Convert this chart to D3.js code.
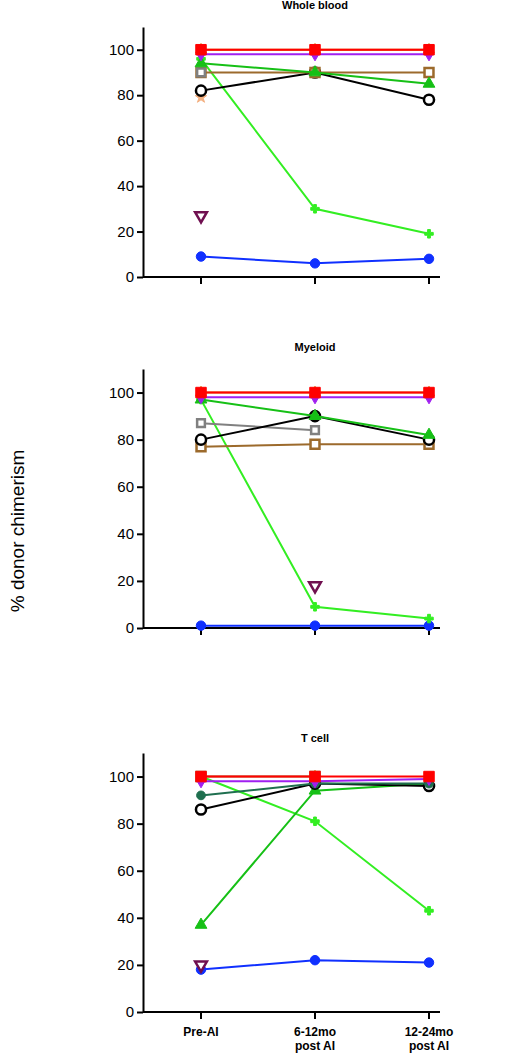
<!DOCTYPE html>
<html>
<head>
<meta charset="utf-8">
<script src="https://cdn.jsdelivr.net/npm/d3@7"></script>
<style>body{margin:0;background:#fff;font-family:Arial,"Liberation Sans",sans-serif}</style>
</head>
<body>
<div class="chart"></div>
<script>
const timepoints = ["Pre-AI", "6-12mo post AI", "12-24mo post AI"];
const yTicks = [0, 20, 40, 60, 80, 100];

// series style keys: color, symbol, filled
const styles = {
  red:    {color: "#ff0000", sym: d3.symbolSquare, fill: true, size: 110},
  purple: {color: "#a020f0", sym: d3.symbolDiamond, fill: true, size: 50},
  orange: {color: "#e07a10", sym: d3.symbolTriangle, fill: true, size: 50},
  brown:  {color: "#9c6a2c", sym: d3.symbolSquare, fill: false, size: 80},
  gray:   {color: "#808080", sym: d3.symbolSquare, fill: false, size: 60},
  green:  {color: "#16c016", sym: d3.symbolTriangle, fill: true, size: 60},
  black:  {color: "#000000", sym: d3.symbolCircle, fill: false, size: 80},
  teal:   {color: "#1f6f4f", sym: d3.symbolCircle, fill: true, size: 60},
  lime:   {color: "#33ee22", sym: d3.symbolCross, fill: true, size: 40},
  maroon: {color: "#701050", sym: d3.symbolTriangle, fill: false, size: 60, rot: 180},
  peach:  {color: "#f4b080", sym: d3.symbolStar, fill: true, size: 40},
  blue:   {color: "#1030ff", sym: d3.symbolCircle, fill: true, size: 70}
};

const wholeBlood = [
  ["peach", [79, null, null]],
  ["blue", [9, 6, 8]],
  ["maroon", [27, null, null]],
  ["lime", [96, 30, 19]],
  ["black", [82, 90, 78]],
  ["brown", [90, 90, 90]],
  ["gray", [90, null, null]],
  ["green", [94, 90, 85]],
  ["orange", [100, 100, 100]],
  ["purple", [98, 98, 98]],
  ["red", [100, 100, 100]]
];
const myeloid = [
  ["blue", [1, 1, 1]],
  ["maroon", [null, 18, null]],
  ["lime", [97, 9, 4]],
  ["brown", [77, 78, 78]],
  ["gray", [87, 84, null]],
  ["black", [80, 90, 80]],
  ["green", [97, 90, 82]],
  ["orange", [100, 100, 100]],
  ["purple", [98, 98, 98]],
  ["red", [100, 100, 100]]
];
const tCell = [
  ["blue", [18, 22, 21]],
  ["maroon", [20, null, null]],
  ["lime", [100, 81, 43]],
  ["green", [37, 94, 97]],
  ["black", [86, 97, 96]],
  ["teal", [92, 97, 97]],
  ["brown", [100, 100, null]],
  ["orange", [null, 100, null]],
  ["purple", [98, 98, 99]],
  ["red", [100, 100, 100]]
];

const panels = [
  {title: "Whole blood", data: wholeBlood, top: 27, bottom: 277, titleY: 9},
  {title: "Myeloid", data: myeloid, top: 369, bottom: 628, titleY: 351},
  {title: "T cell", data: tCell, top: 753, bottom: 1012, titleY: 742}
];

const svg = d3.select(".chart").append("svg").attr("width", 520).attr("height", 1062);
const x = d3.scalePoint().domain(timepoints).range([201, 429]);
const axisLeft = 143, axisRight = 440;

svg.append("text").attr("transform", "translate(24,531) rotate(-90)")
  .attr("text-anchor", "middle").attr("font-size", 19).text("% donor chimerism");

panels.forEach((p, pi) => {
  const y = d3.scaleLinear().domain([0, 110]).range([p.bottom, p.top]);
  const g = svg.append("g");
  g.append("text").attr("x", 315).attr("y", p.titleY).attr("text-anchor", "middle")
    .attr("font-size", 11).attr("font-weight", "bold").text(p.title);

  g.append("g").attr("transform", `translate(${axisLeft},0)`)
    .call(d3.axisLeft(y).tickValues(yTicks).tickSize(6).tickSizeOuter(0))
    .call(a => a.selectAll("text").attr("font-size", 15).attr("font-family", "Arial"))
    .call(a => a.selectAll("path,line").attr("stroke-width", 2));

  const xa = g.append("g").attr("transform", `translate(0,${p.bottom})`);
  xa.append("line").attr("x1", axisLeft).attr("x2", axisRight).attr("stroke", "#000").attr("stroke-width", 2);
  xa.selectAll(".tk").data(timepoints).join("line")
    .attr("x1", d => x(d)).attr("x2", d => x(d)).attr("y1", 0).attr("y2", 7)
    .attr("stroke", "#000").attr("stroke-width", 2);
  if (pi === 2) {
    xa.selectAll(".lb").data(timepoints).join("text")
      .attr("x", d => x(d)).attr("y", 24).attr("text-anchor", "middle")
      .attr("font-size", 12).attr("font-weight", "bold")
      .each(function(d) {
        const parts = d === "Pre-AI" ? [d] : [d.split(" ")[0], "post AI"];
        parts.forEach((t, i) => d3.select(this).append("tspan")
          .attr("x", x(d)).attr("dy", i ? 14 : 0).text(t));
      });
  }

  p.data.forEach(([key, vals]) => {
    const s = styles[key];
    const pts = vals.map((v, i) => ({t: timepoints[i], v})).filter(d => d.v != null);
    g.append("path").datum(pts)
      .attr("fill", "none").attr("stroke", s.color).attr("stroke-width", 2)
      .attr("d", d3.line().x(d => x(d.t)).y(d => y(d.v)));
    g.selectAll(null).data(pts).join("path")
      .attr("transform", d => `translate(${x(d.t)},${y(d.v)}) rotate(${s.rot || 0})`)
      .attr("d", d3.symbol(s.sym, s.size))
      .attr("fill", s.fill ? s.color : "#fff")
      .attr("stroke", s.color).attr("stroke-width", s.fill ? 1 : 2.5);
  });
});
</script>
</body>
</html>
